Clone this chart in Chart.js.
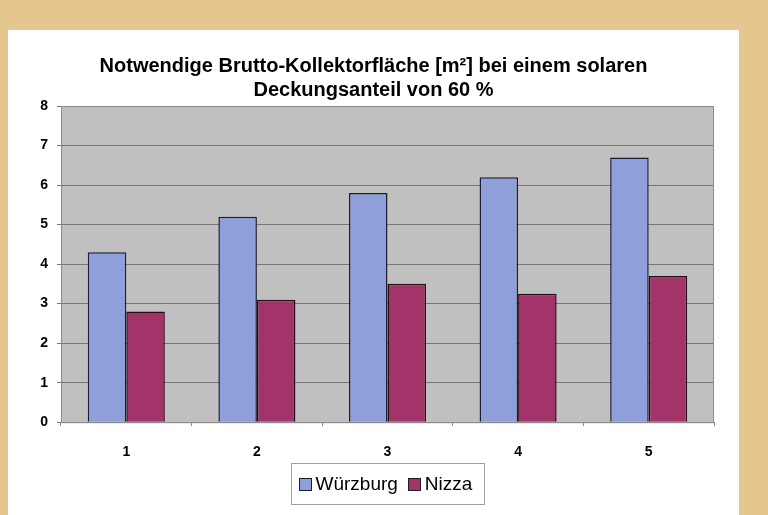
<!DOCTYPE html>
<html>
<head>
<meta charset="utf-8">
<script src="https://cdn.jsdelivr.net/npm/chart.js@4"></script>
<style>
  html, body { margin: 0; padding: 0; }
  body { width: 768px; height: 515px; background: #e4c68e; position: relative; overflow: hidden; }
  #panel { position: absolute; left: 8px; top: 30px; width: 731px; height: 485px; background: #fff; }
</style>
</head>
<body>
<div id="panel"><canvas id="myChart" width="731" height="485"></canvas></div>
<script>
var categories = ['1', '2', '3', '4', '5'];
var wuerzburg = [4.3, 5.2, 5.8, 6.2, 6.7];
var nizza = [2.8, 3.1, 3.5, 3.25, 3.7];
var yTicks = [0, 1, 2, 3, 4, 5, 6, 7, 8];

var fontFamily = 'Arial, "Liberation Sans", sans-serif';

// gray plot background, plot frame and the framed legend below the plot
var excelLook = {
  id: 'excelLook',
  beforeDraw: function(chart) {
    var a = chart.chartArea;
    var ctx = chart.ctx;
    ctx.save();
    ctx.fillStyle = '#c0c0c0';
    ctx.fillRect(a.left, a.top, a.right - a.left, a.bottom - a.top);
    ctx.restore();
  },
  afterDraw: function(chart) {
    var a = chart.chartArea;
    var ctx = chart.ctx;
    ctx.save();
    ctx.strokeStyle = '#8c8c8c';
    ctx.lineWidth = 1;
    ctx.strokeRect(a.left + 0.5, a.top + 0.5, a.right - a.left - 1, a.bottom - a.top);

    // legend
    ctx.font = '19px ' + fontFamily;
    var sets = chart.data.datasets;
    var sq = 13, gapText = 4, gapItem = 10;
    var contentW = 0;
    sets.forEach(function(ds, i) {
      contentW += sq + gapText + ctx.measureText(ds.label).width;
      if (i < sets.length - 1) contentW += gapItem;
    });
    var boxW = Math.round(contentW + 7 + 12);
    var boxH = 41;
    var cx = (a.left + a.right) / 2;
    var bx = Math.round(cx - boxW / 2) + 0.5;
    var by = Math.round(a.bottom + 41) + 0.5;
    ctx.strokeStyle = '#a0a0a0';
    ctx.strokeRect(bx, by, boxW, boxH);
    var x = bx + 7;
    var cy = by + boxH / 2;
    ctx.textBaseline = 'middle';
    sets.forEach(function(ds) {
      ctx.fillStyle = ds.backgroundColor;
      ctx.fillRect(Math.round(x), Math.round(cy - sq / 2), sq, sq);
      ctx.strokeStyle = '#1c1c30';
      ctx.strokeRect(Math.round(x) + 0.5, Math.round(cy - sq / 2) + 0.5, sq - 1, sq - 1);
      x += sq + gapText;
      ctx.fillStyle = '#000';
      ctx.fillText(ds.label, x, cy + 1);
      x += ctx.measureText(ds.label).width + gapItem;
    });
    ctx.restore();
  }
};

var chart = new Chart(document.getElementById('myChart'), {
  type: 'bar',
  data: {
    labels: categories,
    datasets: [
      {
        label: 'Würzburg',
        data: wuerzburg,
        backgroundColor: '#8e9fd9',
        borderColor: '#1a1d33',
        borderWidth: 1.5
      },
      {
        label: 'Nizza',
        data: nizza,
        backgroundColor: '#a2346a',
        borderColor: '#260d1a',
        borderWidth: 1.5
      }
    ]
  },
  options: {
    responsive: false,
    animation: false,
    layout: { padding: { left: 0, right: 0, top: 0, bottom: 36 } },
    datasets: {
      bar: { categoryPercentage: 0.59, barPercentage: 1.0 }
    },
    scales: {
      x: {
        grid: { display: true, drawOnChartArea: false, tickLength: 4, color: '#8c8c8c' },
        border: { color: '#8c8c8c' },
        ticks: { color: '#000', padding: 18, font: { family: fontFamily, size: 14, weight: 'bold' } }
      },
      y: {
        min: 0,
        max: 8,
        afterFit: function(scale) { scale.width = 53; },
        afterBuildTicks: function(scale) {
          scale.ticks = yTicks.map(function(v) { return { value: v }; });
        },
        grid: { color: '#767676', tickLength: 4 },
        border: { color: '#8c8c8c' },
        ticks: { color: '#000', padding: 9, font: { family: fontFamily, size: 14, weight: 'bold' } }
      },
      // empty axis that only keeps white space right of the plot
      spacer: {
        type: 'linear',
        position: 'right',
        afterFit: function(scale) { scale.width = 25; },
        grid: { display: false },
        border: { display: false },
        ticks: { display: false }
      }
    },
    plugins: {
      title: {
        display: true,
        text: ['Notwendige Brutto-Kollektorfläche [m²] bei einem solaren', 'Deckungsanteil von 60 %'],
        color: '#000',
        font: { family: fontFamily, size: 20, weight: 'bold', lineHeight: 1.2 },
        padding: { top: 24, bottom: 4 }
      },
      legend: { display: false },
      tooltip: { enabled: false }
    }
  },
  plugins: [excelLook]
});
</script>
</body>
</html>
